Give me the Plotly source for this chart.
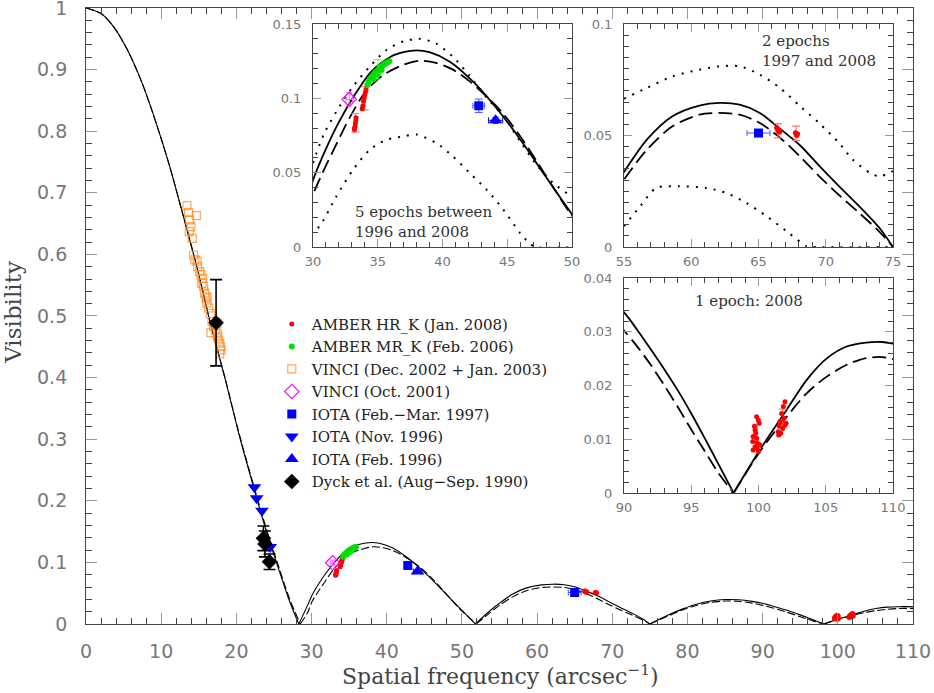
import plotly.graph_objects as go

# ---------------- model curves (lobes split at the nulls) -------------
solid_x = [0, 2, 3.7, 5.5, 7.4, 9.2, 11.1, 12.9, 14.8, 16.6, 18.5, 20.3, 22.2, 24.0, 25.9, 27.1, 28.3, None,
           28.3, 29.5, 30, 31, 32, 33.2, 34.5, 36, 37, 38, 39, 40.6, 42.5, 44.3, 46.2, 48, 50, 51.8, None,
           51.8, 53.5, 55, 56.7, 58.6, 60.6, 62.1, 63.6, 65.1, 66.6, 68.1, 69.5, 71.0, 72.5, 74.0, 75.0, None,
           75.0, 77.5, 79.4, 81.2, 83.1, 85.0, 86.8, 88.6, 90.0, 91.0, 92.0, 93.0, 94.0, 95.0, 96.0, 97.1, 98.15, None,
           98.15, 100.1, 102.1, 103.6, 105.1, 106.6, 108.0, 109.2, 110]
solid_y = [1.0, 0.991, 0.969, 0.932, 0.880, 0.818, 0.744, 0.664, 0.577, 0.485, 0.398, 0.310, 0.226, 0.150, 0.079, 0.036, 0, None,
           0, 0.031, 0.045, 0.066, 0.084, 0.102, 0.118, 0.128, 0.131, 0.1323, 0.131, 0.1245, 0.110, 0.092, 0.070, 0.047, 0.022, 0, None,
           0, 0.019, 0.0336, 0.0481, 0.0586, 0.0634, 0.0646, 0.0638, 0.0601, 0.0530, 0.0455, 0.0365, 0.0272, 0.0182, 0.0085, 0, None,
           0, 0.015, 0.0245, 0.032, 0.0373, 0.0397, 0.0393, 0.0367, 0.0336, 0.0303, 0.0267, 0.0230, 0.0191, 0.0148, 0.0102, 0.0050, 0, None,
           0, 0.0080, 0.0155, 0.0211, 0.0251, 0.0273, 0.0280, 0.0281, 0.0278]

dashed_x = [0, 2, 3.7, 5.5, 7.4, 9.2, 11.1, 12.9, 14.8, 16.6, 18.5, 20.3, 22.2, 24.0, 25.9, 27.1, 28.5, None,
            28.5, 29.5, 30, 30.8, 31.8, 32.8, 34.1, 35.4, 37.0, 38.2, 39.5, 40.8, 42.1, 43.4, 44.7, 46.0, 47.2, 48.5, 49.8, 51.9, None,
            51.9, 53.5, 55, 56.7, 58.6, 60.6, 62.1, 63.6, 65.1, 66.6, 68.1, 69.5, 71.0, 72.5, 74.0, 75.0, None,
            75.0, 77.5, 79.4, 81.2, 83.1, 85.0, 86.8, 88.6, 90.0, 91.0, 92.0, 93.0, 94.0, 95.0, 96.0, 97.0, 98.15, None,
            98.15, 100.1, 102.1, 103.6, 105.1, 106.6, 108.0, 109.2, 110]
dashed_y = [1.0, 0.991, 0.969, 0.932, 0.880, 0.818, 0.744, 0.664, 0.577, 0.486, 0.399, 0.312, 0.229, 0.154, 0.083, 0.040, 0, None,
            0, 0.019, 0.035, 0.051, 0.069, 0.0865, 0.105, 0.1155, 0.1226, 0.1253, 0.1238, 0.1193, 0.1114, 0.1013, 0.0895, 0.0745, 0.0587, 0.0408, 0.0235, 0, None,
            0, 0.016, 0.0302, 0.0436, 0.0541, 0.0593, 0.0601, 0.0593, 0.0556, 0.0490, 0.0405, 0.0318, 0.0232, 0.0152, 0.0068, 0, None,
            0, 0.0135, 0.023, 0.030, 0.0352, 0.0372, 0.0368, 0.0338, 0.0302, 0.0272, 0.0238, 0.0200, 0.0160, 0.0118, 0.0078, 0.0038, 0, None,
            0, 0.0077, 0.0142, 0.0186, 0.0217, 0.0239, 0.0251, 0.0253, 0.0249]

# dotted envelopes (only in the two upper insets)
dot_hi_x = [30, 30.9, 32.06, 33.1, 34.4, 35.7, 37.0, 38.2, 39.5, 40.8, 42.1, 43.4, 44.7, 46.0, 47.2, 48.5, 49.8, 50.2, None,
            55, 56.7, 58.6, 60.6, 62.1, 63.6, 65.1, 66.6, 68.1, 69.5, 71.0, 72.0, 73.3, 74.0, 75.0]
dot_hi_y = [0.0565, 0.077, 0.0946, 0.108, 0.1215, 0.1327, 0.1383, 0.140, 0.137, 0.128, 0.115, 0.1005, 0.088, 0.071, 0.056, 0.0435, 0.035, 0.033, None,
            0.0665, 0.0713, 0.0765, 0.0795, 0.081, 0.081, 0.0773, 0.0713, 0.0631, 0.0556, 0.0466, 0.0392, 0.0332, 0.0317, 0.034]
dot_lo_x = [29.8, 30.5, 31.8, 33.1, 34.4, 35.7, 37.0, 38.0, 39.5, 40.8, 42.1, 43.4, 44.7, 46.0, 46.7, 47.2, 50.2, None,
            55, 56.2, 57.4, 59.1, 61.1, 62.6, 64.1, 65.6, 67.1, 68.6, 69.0, 75.0]
dot_lo_y = [0.009, 0.0139, 0.034, 0.052, 0.0655, 0.0722, 0.0744, 0.0756, 0.070, 0.061, 0.0498, 0.0386, 0.0251, 0.0094, 0.0027, 0, 0, None,
            0.0093, 0.0182, 0.0265, 0.0272, 0.0265, 0.0242, 0.0197, 0.0138, 0.007, 0.0003, 0, 0]

# ---------------- observations -------------
amber_hr_x = [33.2, 33.22, 33.25, 33.27, 33.3, 33.33, 33.8, 33.85, 33.9, 33.95, 34.0, 34.05, 34.1,
              66.35, 66.4, 66.45, 66.5, 66.55, 66.6, 67.75, 67.8, 67.85, 67.9,
              99.86, 99.99, 99.74, 99.6, 99.86, 99.57, 99.9, 99.74, 99.6, 99.99, 100.1, 99.8, 100.05, 99.7, 99.9,
              101.97, 101.85, 101.72, 101.9, 101.6, 102.05, 101.55, 101.8, 101.47, 101.65, 101.5, 101.97]
amber_hr_y = [0.079, 0.080, 0.081, 0.083, 0.085, 0.087, 0.093, 0.095, 0.098, 0.100, 0.102, 0.104, 0.106,
              0.0535, 0.053, 0.052, 0.0525, 0.0515, 0.052, 0.0512, 0.0505, 0.050, 0.0508,
              0.0142, 0.0136, 0.0117, 0.0105, 0.0102, 0.0096, 0.0093, 0.0086, 0.0080, 0.0077, 0.0090, 0.0111, 0.0130, 0.0124, 0.0083,
              0.0170, 0.0161, 0.0148, 0.0139, 0.0133, 0.0130, 0.0124, 0.0120, 0.0114, 0.0111, 0.0108, 0.0127]
amber_hr_eb_x = [33.28, 34.0, 66.45, 67.8, 99.9, 101.8]
amber_hr_eb_y = [0.0835, 0.100, 0.0521, 0.051, 0.0105, 0.0139]
amber_hr_eb_err = [0.0063, 0.0078, 0.0032, 0.0032, 0.0022, 0.0017]

amber_mr_x = [34.2, 34.3, 34.4, 34.5, 34.6, 34.7, 34.8, 34.9, 35.0, 35.1, 35.2, 35.3, 35.4, 35.5, 35.6, 35.7, 35.8, 35.9,
              34.7, 35.0, 35.3]
amber_mr_y = [0.109, 0.111, 0.113, 0.1135, 0.115, 0.116, 0.1175, 0.118, 0.1185, 0.120, 0.121, 0.1215, 0.122, 0.123, 0.1235, 0.124, 0.1245, 0.125,
              0.113, 0.116, 0.119]
amber_mr_eb_x = [35.0]
amber_mr_eb_y = [0.1195]
amber_mr_eb_err = [0.0065]

vinci_x = [13.42, 13.64, 14.67, 13.78, 13.96, 13.73, 14.13, 14.31, 14.49, 14.76, 14.84, 15.11, 15.29, 15.51, 15.64,
           15.78, 15.96, 16.09, 16.31, 16.53, 16.76, 16.97, 17.2, 17.43, 17.51, 17.64, 17.78, 17.87, 17.96, 17.78,
           16.62, 17.43, 15.42, 16.09]
vinci_y = [0.679, 0.668, 0.663, 0.656, 0.645, 0.637, 0.626, 0.599, 0.591, 0.589, 0.580, 0.572, 0.567, 0.561, 0.548,
           0.537, 0.529, 0.521, 0.513, 0.504, 0.491, 0.483, 0.477, 0.472, 0.466, 0.461, 0.456, 0.450, 0.445, 0.439,
           0.473, 0.488, 0.553, 0.531]

vinci01_x = [32.8]
vinci01_y = [0.0993]

iota97_x = [42.8, 65.0]
iota97_y = [0.095, 0.0511]
iota97_ex = [0.45, 0.85]
iota97_ey = [0.0045, 0.001]

iota_nov96_x = [22.4, 22.7, 23.4, 24.5]
iota_nov96_y = [0.222, 0.204, 0.184, 0.125]

iota_feb96_x = [44.1]
iota_feb96_y = [0.0852]
iota_feb96_ex = [0.55]
iota_feb96_ey = [0.002]

dyck_x = [17.3, 23.6, 23.8, 24.4]
dyck_y = [0.489, 0.139, 0.130, 0.101]
dyck_err = [0.07, 0.02, 0.021, 0.0125]

AXES = [('x', 'y'), ('x2', 'y2'), ('x3', 'y3'), ('x4', 'y4')]

fig = go.Figure()


def add_all(axes=AXES, legend=False, **kw):
    for i, (xa, ya) in enumerate(axes):
        fig.add_trace(go.Scatter(xaxis=xa, yaxis=ya, showlegend=(legend and i == 0), **kw))


# model curves
for i, (xa, ya) in enumerate(AXES):
    w = 1.1 if i == 0 else 1.8
    fig.add_trace(go.Scatter(x=solid_x, y=solid_y, mode='lines', xaxis=xa, yaxis=ya, showlegend=False,
                             line=dict(color='black', width=w, shape='spline', smoothing=0.8), hoverinfo='skip'))
    fig.add_trace(go.Scatter(x=dashed_x, y=dashed_y, mode='lines', xaxis=xa, yaxis=ya, showlegend=False,
                             line=dict(color='black', width=w, dash='8px,3px' if i == 0 else '14px,6px',
                                       shape='spline', smoothing=0.8), hoverinfo='skip'))
for xa, ya in AXES[1:3]:
    for dx, dy in [(dot_hi_x, dot_hi_y), (dot_lo_x, dot_lo_y)]:
        fig.add_trace(go.Scatter(x=dx, y=dy, mode='lines', xaxis=xa, yaxis=ya, showlegend=False,
                                 line=dict(color='black', width=2, dash='2px,7px', shape='spline', smoothing=0.8),
                                 hoverinfo='skip'))

# error bars of a few representative points (drawn under the symbols)
add_all(axes=AXES[1:], x=amber_hr_eb_x, y=amber_hr_eb_y, mode='markers',
        marker=dict(size=2, color='rgba(0,0,0,0)'),
        error_y=dict(type='data', array=amber_hr_eb_err, color='#ff7a7a', thickness=1.2, width=4))
add_all(axes=AXES[1:2], x=amber_mr_eb_x, y=amber_mr_eb_y, mode='markers',
        marker=dict(size=2, color='rgba(0,0,0,0)'),
        error_y=dict(type='data', array=amber_mr_eb_err, color='#88ee88', thickness=1.2, width=4))

# data, in legend order
add_all(legend=True, name='AMBER HR_K (Jan. 2008)', x=amber_hr_x, y=amber_hr_y, mode='markers',
        marker=dict(symbol='circle', size=5, color='#ff0000'))
add_all(legend=True, name='AMBER MR_K (Feb. 2006)', x=amber_mr_x, y=amber_mr_y, mode='markers',
        marker=dict(symbol='circle', size=6, color='#00e000'))
add_all(legend=True, name='VINCI (Dec. 2002 + Jan. 2003)', x=vinci_x, y=vinci_y, mode='markers',
        marker=dict(symbol='square-open', size=8, color='#ff8a1c', opacity=0.75, line=dict(width=1.2)))
add_all(legend=True, name='VINCI (Oct. 2001)', x=vinci01_x, y=vinci01_y, mode='markers',
        marker=dict(symbol='diamond-open', size=11, color='#ff00ff', line=dict(width=1.2)),
        error_y=dict(type='data', array=[0.0045], color='#ff66ff', thickness=1, width=3),
        error_x=dict(type='data', array=[0.25], color='#ff66ff', thickness=1, width=3))
add_all(legend=True, name='IOTA (Feb.\u2212Mar. 1997)', x=iota97_x, y=iota97_y, mode='markers',
        marker=dict(symbol='square', size=9, color='#0000ff'),
        error_y=dict(type='data', array=iota97_ey, color='#4455ff', thickness=1, width=4),
        error_x=dict(type='data', array=iota97_ex, color='#4455ff', thickness=1, width=3))
add_all(legend=True, name='IOTA (Nov. 1996)', x=iota_nov96_x, y=iota_nov96_y, mode='markers',
        marker=dict(symbol='triangle-down', size=12, color='#0000ff'))
add_all(legend=True, name='IOTA (Feb. 1996)', x=iota_feb96_x, y=iota_feb96_y, mode='markers',
        marker=dict(symbol='triangle-up', size=12, color='#0000ff'),
        error_y=dict(type='data', array=iota_feb96_ey, color='#0000ff', thickness=1, width=3),
        error_x=dict(type='data', array=iota_feb96_ex, color='#0000ff', thickness=1, width=3))
add_all(legend=True, name='Dyck et al. (Aug\u2212Sep. 1990)', x=dyck_x, y=dyck_y, mode='markers',
        marker=dict(symbol='diamond', size=12, color='black'),
        error_y=dict(type='data', array=dyck_err, color='black', thickness=1.6, width=6))


def axis_cfg(rng, dtick, minor_dtick, domain, anchor, fsize, major_len, minor_len, standoff):
    return dict(
        domain=domain, range=rng, anchor=anchor, dtick=dtick, tick0=0,
        ticks='inside', ticklen=major_len, tickwidth=1, tickcolor='#999',
        minor=dict(dtick=minor_dtick, tick0=0, ticks='inside', ticklen=minor_len,
                   tickwidth=1, tickcolor='#444', showgrid=False),
        showline=True, linecolor='#444', linewidth=1, mirror='ticks',
        showgrid=False, zeroline=False, fixedrange=True, automargin=False,
        tickfont=dict(family='DejaVu Sans', size=fsize, color='#777'),
        ticklabelstandoff=standoff, ticklabeloverflow='allow',
    )


fig.update_layout(
    width=934, height=693, autosize=False,
    margin=dict(l=0, r=0, t=0, b=0),
    paper_bgcolor='white', plot_bgcolor='white',
    xaxis=axis_cfg([0, 110], 10, 2, [0.0921, 0.9775], 'y', 19, 11, 6, 10),
    yaxis=axis_cfg([0, 1], 0.1, 0.02, [0.0996, 0.9885], 'x', 19, 11, 6, 14),
    xaxis2=axis_cfg([30, 50], 5, 1, [0.3351, 0.6124], 'y2', 13, 8, 5, 2),
    yaxis2=axis_cfg([0, 0.15], 0.05, 0.01, [0.6436, 0.9654], 'x2', 13, 8, 5, 8),
    xaxis3=axis_cfg([55, 75], 5, 1, [0.6681, 0.9561], 'y3', 13, 8, 5, 2),
    yaxis3=axis_cfg([0, 0.1], 0.05, 0.005, [0.6436, 0.9654], 'x3', 13, 8, 5, 8),
    xaxis4=axis_cfg([90, 110], 5, 1, [0.6681, 0.9561], 'y4', 13, 8, 5, 2),
    yaxis4=axis_cfg([0, 0.04], 0.01, 0.002, [0.2886, 0.5988], 'x4', 13, 8, 5, 8),
    legend=dict(
        x=0.291, y=0.556, xanchor='left', yanchor='top',
        bgcolor='rgba(0,0,0,0)', borderwidth=0,
        font=dict(family='DejaVu Serif', size=15, color='#222'),
        itemsizing='trace', tracegroupgap=0, itemwidth=30,
    ),
    annotations=[
        dict(text='Spatial frequency (arcsec<sup>\u22121</sup>)', xref='paper', yref='paper',
             x=0.536, y=0.026, xanchor='center', yanchor='middle', showarrow=False,
             font=dict(family='DejaVu Serif', size=22, color='#444')),
        dict(text='Visibility', xref='paper', yref='paper', x=0.0139, y=0.55, textangle=-90,
             xanchor='center', yanchor='middle', showarrow=False,
             font=dict(family='DejaVu Serif', size=23, color='#444')),
        dict(text='5 epochs between<br>1996 and 2008', xref='paper', yref='paper', x=0.378, y=0.679,
             xanchor='left', yanchor='middle', align='left', showarrow=False,
             font=dict(family='DejaVu Serif', size=15, color='#333')),
        dict(text='2 epochs<br>1997 and 2008', xref='paper', yref='paper', x=0.8137, y=0.9257,
             xanchor='left', yanchor='middle', align='left', showarrow=False,
             font=dict(family='DejaVu Serif', size=15, color='#333')),
        dict(text='1 epoch: 2008', xref='paper', yref='paper', x=0.742, y=0.566,
             xanchor='left', yanchor='middle', align='left', showarrow=False,
             font=dict(family='DejaVu Serif', size=15, color='#333')),
    ],
)

# the page's default 8px body margin would shift the whole figure
fig.write_html("out.html", config={'displayModeBar': False},
               post_script="document.body.style.margin='0';")
